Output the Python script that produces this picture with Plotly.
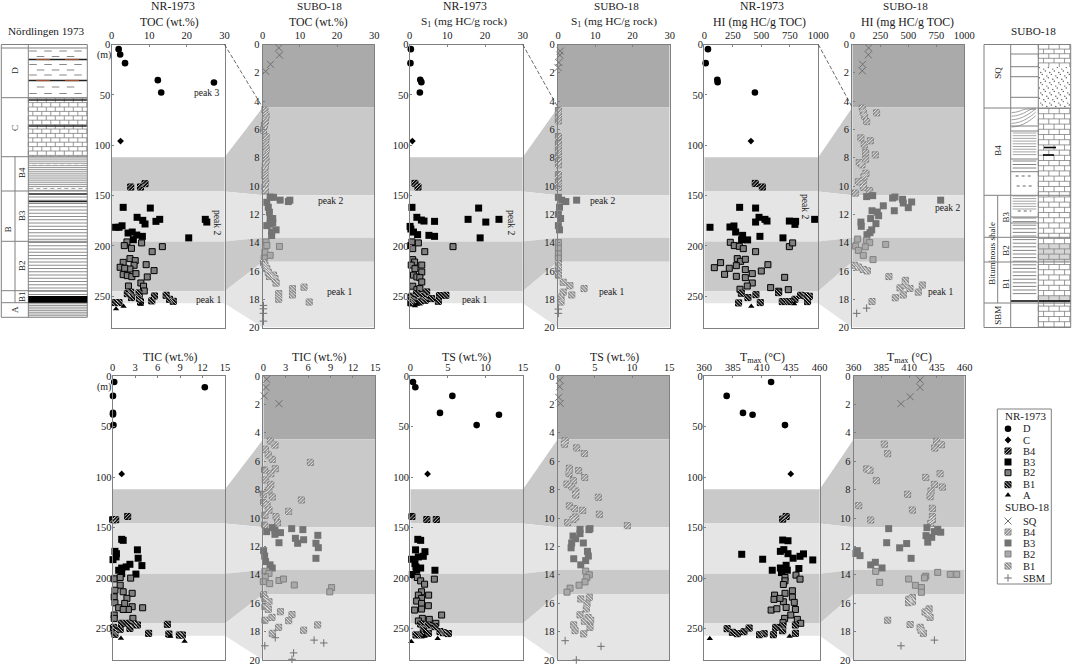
import plotly.graph_objects as go

W, H = 1072, 665
SERIF = "Liberation Serif"

# depth boundaries of the units, NR-1973 in m and SUBO-18 in m
nr_bounds = [112, 146, 195.6, 245, 257]
su_bounds = [4.45, 10.65, 13.65, 15.35, 20]
nr_depth_max = 281
su_depth_max = 20

# (value, depth)
toc_nr_d = [(1.9, 4.6), (2.3, 9.9), (3.6, 18.5), (12.3, 35.4), (13.2, 47.6), (27.2, 37.7)]
toc_nr_c = [(2.4, 95.9)]
toc_nr_b4 = [(5.1, 141.5), (7.7, 141.5), (8.9, 138.2)]
toc_nr_b3 = [(3.1, 161.7), (10.3, 162.4), (6.8, 171.6), (8.3, 174.6), (8.9, 178.2), (11.8, 175.6), (12.8, 173.6),
             (24.9, 173.6), (25.3, 176.3), (20.5, 192), (1.1, 181.5), (2, 181.5), (2.8, 180), (4.4, 187.2),
             (5.5, 186.2), (6.7, 189.2), (8.2, 190.5), (5.8, 193.8)]
toc_nr_b2 = [(4.1, 196), (3.4, 199.7), (5.3, 202.4), (8, 197), (10.8, 205.7), (13.5, 200.7), (4.9, 212.6), (6.3, 214.6),
             (3.1, 216.3), (6, 219.2), (4.9, 222.9), (9.2, 218.6), (2.3, 221.2), (3.5, 222.2), (11.3, 224.5),
             (3.1, 228.5), (4.2, 229.5), (5.4, 230.5), (6.5, 227.5), (9.5, 230.8), (7.8, 236.8), (8.5, 240),
             (4.5, 239.8), (8.7, 244.7)]
toc_nr_b1 = [(4.2, 247.4), (5.1, 246), (5.3, 251.3), (7.3, 246.7), (7.4, 252), (7.7, 255.6), (10.7, 254.6), (11.4, 249.7),
             (14.5, 249), (15.4, 253), (16.4, 255), (1, 256.3), (2, 256.3)]
toc_nr_a = [(1.2, 262.6), (3.2, 260), (7.8, 258)]

toc_su_sq = [(4.3, 0.24), (4.5, 0.75), (2.1, 1.4), (0.8, 1.9)]
toc_su_b4 = [(0.6, 4.65), (0.9, 5), (0.7, 5.4), (0.45, 5.7), (0.2, 6.06), (0.9, 6.53), (0.8, 6.96), (0.9, 7.36), (0.8, 7.76),
             (0.9, 8.18), (0.7, 8.54), (0.6, 8.9), (0.6, 9.3), (0.8, 9.7), (0.6, 10.07), (0.7, 10.35)]
toc_su_b3 = [(2, 10.78), (2.9, 10.8), (4.7, 11), (6.9, 11.1), (7.3, 11), (1.1, 11.15), (1.5, 11.5), (1.8, 11.85), (2, 12.3),
             (2.7, 12.3), (2.7, 12.6), (1.1, 12.8), (2, 12.7), (3.6, 13.1), (2.4, 13.25), (2.4, 13.5)]
toc_su_b2 = [(0.9, 13.96), (1.1, 14.2), (4.5, 14.27), (0.6, 14.67), (2, 14.9), (0.4, 15.1)]
toc_su_b1 = [(0.2, 15.4), (0.6, 15.6), (1.1, 15.85), (1.5, 16.1), (1.8, 16.4), (2.9, 16.3), (3.3, 16.55), (3.6, 16.86),
             (4.3, 17.6), (4.3, 18), (8, 17.26), (8, 17.7), (11.1, 17.15), (12.5, 18.2)]
toc_su_sbm = [(0.2, 18.44), (0.2, 18.68), (0.2, 19), (0.2, 19.55)]

s1_nr_d = [(0.3, 4.6), (0.2, 18.5), (2.8, 35), (3.1, 37.4), (2.7, 47.6)]
s1_nr_c = [(0.7, 95.9)]
s1_nr_b4 = [(1.4, 137.9), (2.2, 141.5)]
s1_nr_b3 = [(0.6, 161.7), (18.3, 162.4), (1.9, 171.6), (3.1, 174.3), (3.8, 175.3), (6.6, 175.6), (15.5, 173.6), (20.2, 176.3),
            (23.7, 173.6), (18.7, 192), (0.1, 180.6), (0.3, 183.2), (1, 186.2), (2.1, 188.8), (5.1, 189.5), (6.6, 190.5),
            (0.3, 199.7)]
s1_nr_b2 = [(0.6, 196), (2.3, 197), (0.8, 202.7), (4, 205.7), (11.5, 200.7), (0.8, 213.6), (1.3, 216), (0.4, 219), (3.2, 219),
            (1.4, 222.6), (3.2, 225.9), (1, 229), (1.9, 230.8), (2.7, 231.5), (3.2, 235.8), (0.8, 240), (1.9, 243.4),
            (2.7, 242.4)]
s1_nr_b1 = [(4.5, 245.7), (3.6, 250), (0.5, 250), (1.9, 247.4), (7.9, 249.3), (9.6, 249), (4.1, 254), (5.8, 252.3), (7.6, 255),
            (0.3, 256.6), (1, 254), (2.7, 255.6)]
s1_nr_a = [(1.4, 259.6), (2, 258)]

s1_su_sq = [(0.6, 0.47), (0.5, 0.75), (0.2, 1.27), (0, 1.63)]
s1_su_b4 = [(0.1, 4.65), (0.1, 5), (0.1, 5.4), (0.1, 6.5), (0.1, 7), (0.1, 7.4), (0.1, 7.8), (0.1, 8.2), (0.1, 8.5), (0.1, 9.2),
            (0.1, 9.7), (0.1, 10.1)]
s1_su_b3 = [(0.1, 10.8), (1, 11), (2.1, 11.1), (5, 11), (0.4, 11.5), (0.1, 12), (0.7, 12.3), (0.1, 12.8), (0.4, 13.1)]
s1_su_b2 = [(0.1, 14), (0.1, 14.4), (0.1, 14.8), (0.1, 15.1)]
s1_su_b1 = [(0.1, 15.5), (0.1, 15.85), (0.1, 16.3), (1.4, 16.8), (3.2, 17.05), (1.4, 17.5), (3.7, 17.7), (7, 17.25), (0.8, 17.85),
            (0.8, 18.2)]
s1_su_sbm = [(0.1, 18.7), (0.1, 19)]

hi_nr_d = [(32, 4.6), (12, 18.5), (114, 35), (117, 37.4), (444, 47.6)]
hi_nr_c = [(409, 95.9)]
hi_nr_b4 = [(447, 137.9), (509, 141.5)]
hi_nr_b3 = [(310, 161.7), (450, 162.4), (480, 171.6), (532, 173.6), (550, 175.3), (450, 176.3), (746, 175.3), (801, 175.6),
            (795, 178.6), (968, 173.6), (50, 181.5), (225, 181.2), (260, 180.2), (275, 186.2), (336, 189.5), (327, 193.8),
            (380, 194), (488, 190.5), (690, 192)]
hi_nr_b2 = [(228, 196.4), (263, 199.7), (307, 200.4), (342, 202.7), (450, 205.7), (746, 200.7), (775, 197), (289, 212.6),
            (319, 215.3), (360, 213.3), (143, 216.6), (88, 221.6), (281, 219.6), (219, 222.2), (178, 228.2), (281, 230.2),
            (360, 223.5), (360, 231.5), (421, 227.5), (500, 224.9), (558, 218.6), (705, 231.2), (421, 236.8), (377, 239.8),
            (313, 243), (582, 241.4), (652, 245), (737, 243.4)]
hi_nr_b1 = [(325, 247), (383, 251.3), (453, 248.4), (652, 246.4), (301, 256.6), (491, 256.3), (684, 255.3), (737, 255.3),
            (795, 253), (845, 249), (889, 249.7), (921, 250), (906, 255.3)]
hi_nr_a = [(412, 260), (789, 257.6)]

hi_su_sq = [(146, 0.24), (143, 0.73), (92, 1.4), (89, 1.86)]
hi_su_b4 = [(89, 4.5), (98, 4.8), (217, 4.83), (110, 5.07), (128, 5.45), (77, 6.6), (161, 6.8), (107, 7.1), (119, 7.64), (205, 7.8),
            (119, 8.1), (62, 8.35), (86, 8.5), (122, 9.1), (104, 9.36), (54, 9.7), (98, 9.83), (98, 10.1), (155, 10.33), (27, 10.5)]
hi_su_b3 = [(128, 10.75), (182, 10.68), (360, 10.85), (381, 10.78), (449, 10.94), (455, 11.2), (530, 11.13), (500, 11.53), (789, 11),
            (277, 11.4), (176, 11.75), (223, 11.84), (235, 12.1), (375, 11.75), (164, 12.3), (77, 12.55), (80, 12.85), (211, 12.66),
            (173, 13.1), (158, 13.3), (131, 13.44)]
hi_su_b2 = [(48, 13.75), (128, 13.84), (155, 14), (298, 14.13), (30, 14.25), (116, 14.3), (54, 14.55), (98, 14.9), (185, 15.2)]
hi_su_b1 = [(18, 15.6), (54, 15.73), (98, 15.9), (134, 16), (327, 16.4), (473, 16.67), (426, 17.2), (515, 17.24), (625, 17), (589, 17.5),
            (455, 17.7), (384, 17.9), (176, 18.16), (473, 17)]
hi_su_sbm = [(128, 18.63), (39, 19)]

tic_nr_d = [(0.2, 5.9), (12.3, 11.2), (0.04, 19.7), (0.04, 36.5), (0.04, 38), (0.1, 48.6)]
tic_nr_c = [(1.2, 96.9)]
tic_nr_b4 = [(2, 139), (0, 142.2), (0.4, 142.2)]
tic_nr_b3 = [(1.2, 161.6), (1.4, 162.6), (3.3, 172), (3.4, 180.3), (3.9, 187.6), (3.1, 196), (0.3, 173.5), (0.5, 175.8), (0.45, 179),
             (0.04, 181.7), (2.3, 186.3), (1.8, 188.9), (1.2, 190), (0.8, 192.2), (1.2, 195.5)]
tic_nr_b2 = [(0.2, 200.7), (1, 199.4), (2.4, 200), (1, 207), (0.3, 212), (1.4, 213.5), (2.6, 215), (0.2, 218.5), (1.9, 220), (0.3, 224.4),
             (1.6, 225), (0.8, 229.3), (2.6, 228.3), (2.1, 231), (1.4, 231), (4, 229.3), (0.2, 236.5), (0.2, 239.8), (2.7, 239.8)]
tic_nr_b1 = [(1.2, 244.7), (2.1, 244.7), (2.8, 245.4), (3.3, 246.4), (2.3, 249.7), (1, 250.6), (0.1, 248.7), (0.2, 253), (0.3, 255.6),
             (7.3, 245.7), (4.8, 254.6), (7.5, 255.3), (8.9, 256.3), (9.3, 256.3)]
tic_nr_a = [(1.1, 259.5), (7.7, 257.6), (9.6, 262.5)]

tic_su_sq = [(0.45, 0.23), (0.36, 0.8), (0.13, 1.4), (2.1, 1.95)]
tic_su_b4 = [(0.94, 4.58), (1.56, 4.86), (0.3, 5.16), (0.67, 5.56), (1.2, 5.87), (6.3, 6.08), (1.6, 6.53), (0.18, 6.62), (1, 6.88), (0.27, 7.32),
             (1, 7.63), (0.76, 8.03), (0, 8.33), (1.2, 8.52), (5.1, 8.73), (0.04, 8.9), (0.5, 9.08), (0.76, 9.44), (3.4, 9.53), (0.22, 9.8),
             (1.7, 9.9), (1.9, 10.33), (0.18, 10.5)]
tic_su_b3 = [(0.45, 10.96), (1.2, 10.68), (1.56, 10.85), (1.56, 11.15), (2.3, 11.03), (3.8, 10.75), (5.3, 10.82), (4.3, 11.43), (4.6, 11.78),
             (5.4, 11.53), (7.3, 11.22), (7.05, 11.78), (7.37, 12.09), (7.05, 12.84), (2.1, 11.74), (0.04, 12.3), (0.18, 12.68), (0.3, 13.07),
             (0.9, 13.3), (1.2, 13.52)]
tic_su_b2 = [(0.22, 13.75), (0.76, 13.9), (0.27, 14.13), (0, 14.48), (0.85, 14.62), (2.1, 14.4), (2.7, 14.3), (4.15, 14.72), (9.15, 14.9), (8.9, 15.2)]
tic_su_b1 = [(0.04, 15.4), (0.22, 15.7), (0.76, 15.9), (0.22, 16.24), (0.67, 16.43), (2.3, 16.6), (3.84, 16.8), (1.16, 17), (3.4, 17.23),
             (0.22, 17.2), (7.28, 17.53), (5.4, 17.9), (2.05, 17.7), (1.2, 18.12)]
tic_su_sbm = [(1.6, 18.43), (6.8, 18.6), (8.1, 18.8), (0.2, 19), (4.06, 19.5), (3.84, 19.95)]

ts_nr_d = [(0.36, 5.9), (0.67, 11.2), (5.6, 19.7), (3.95, 36.5), (11.8, 38.4), (8.83, 48.6)]
ts_nr_c = [(2.3, 96.9)]
ts_nr_b4 = [(0.22, 139), (2.2, 142), (3.46, 142)]
ts_nr_b3 = [(1, 161.6), (1.38, 162.6), (0.7, 172), (1.95, 173.8), (1.07, 179), (1.73, 178.4), (0.18, 181.3), (0.62, 185.6), (0.75, 189), (1.38, 190),
            (3.28, 192.2), (0.27, 196.4), (0.85, 192.2)]
ts_nr_b2 = [(0.93, 199.4), (1.38, 202.7), (1.9, 206), (3.2, 201), (1.5, 213.5), (1.07, 216.8), (2.44, 216.8), (1.5, 220), (0.85, 222.7), (1.5, 225),
            (2.4, 227.3), (0.58, 231.6), (1.5, 230.6), (4.17, 236.5), (1.6, 239.8), (2.53, 240.8), (1.07, 242.4), (3.4, 244.7)]
ts_nr_b1 = [(1.38, 245.4), (2.4, 246.4), (3.28, 248), (1.73, 249.7), (2.4, 254.6), (3.95, 252.9), (5.06, 254.9), (0.75, 256.2), (1.5, 256.2), (4.4, 254)]
ts_nr_a = [(0.13, 262.8), (1.9, 257.6), (3.64, 259.9)]

ts_su_sq = [(0.27, 0.28), (0.27, 0.75), (0.13, 1.5), (0.36, 1.93)]
ts_su_b4 = [(1, 4.56), (0.9, 4.8), (2.55, 5.06), (3.58, 5.46), (1.57, 6.5), (1.52, 6.87), (2.82, 6.66), (3.63, 7.15), (2.1, 7.36), (1.25, 7.62),
            (1.88, 7.8), (2.42, 8.1), (2.42, 8.38), (5.46, 8.54), (1.57, 9.15), (2.24, 9.34), (3.36, 9.46), (5.6, 9.74), (2.42, 9.93), (2.06, 10.1),
            (1.34, 10.33), (9.36, 10.54)]
ts_su_b3 = [(4.2, 10.82), (3, 10.8), (3, 11.1), (2.06, 11.27), (2.42, 11.46), (3.45, 11.76), (1.88, 11.76), (1.8, 12.1), (4, 12.35), (4.12, 12.68),
            (2.15, 12.87), (3.76, 13), (3.1, 13.3), (4.34, 10.75)]
ts_su_b2 = [(3.76, 13.74), (4.25, 14), (3.9, 14.2), (3.67, 14.5), (2.87, 14.73), (1.66, 14.94), (1.25, 15.22)]
ts_su_b1 = [(4.25, 15.58), (3.1, 15.7), (3.94, 16.05), (3.85, 16.4), (3, 16.82), (4.08, 17), (3.58, 17.27), (4.43, 17.2), (4.34, 17.7), (2.15, 17.53),
            (2.33, 17.93), (3.5, 18.16)]
ts_su_sbm = [(1, 18.64), (5.82, 19.04), (2.5, 20)]

tmax_nr_d = [(418, 5.9), (379.6, 19.7), (393.7, 36.5), (402, 38.4), (430, 48.6)]
tmax_nr_c = [(435, 96.9)]
tmax_nr_b4 = [(428, 141.6), (431, 139)]
tmax_nr_b3 = [(428, 162.3), (432.6, 163), (392.6, 176.4), (410.7, 181.3), (426, 173.5), (429, 171.8), (432.6, 175.8), (437, 180.3), (443, 178.4), (446, 176),
              (454, 182), (419, 192.2), (426, 190), (431, 187.3), (442, 190.5), (427, 194.5), (432, 192.2)]
tmax_nr_b2 = [(430, 199.4), (439.5, 197), (443, 201), (430, 202.7), (428.6, 206.3), (436.4, 212.5), (430, 215), (421, 216.8), (420.5, 221), (436.4, 218.8),
              (428.6, 223.4), (438, 224), (425.7, 220), (431, 229), (439, 231), (418, 231.6), (423, 230.3), (435, 236.5), (429.7, 239.8), (440.7, 240.8),
              (443.6, 244.7), (428.3, 244)]
tmax_nr_b1 = [(439, 246.4), (380, 250), (384.5, 253.6), (388.8, 255), (394.6, 253), (399, 249.4), (408, 256), (412, 255), (420, 256), (422, 248.7),
              (428, 247.4), (428, 252), (439, 254.6)]
tmax_nr_a = [(365, 259.9), (434, 257.6)]

tmax_su_sq = [(419.8, 0.28), (419.8, 0.8), (410.8, 1.46), (402.6, 1.95)]
tmax_su_b4 = [(434.8, 4.6), (439, 4.84), (433, 5.07), (387.6, 4.8), (390.6, 5.47), (371.7, 6.55), (374.7, 6.64), (380.4, 7.37), (437.8, 6.88), (424.9, 7.14),
              (432.7, 7.63), (439.9, 7.82), (429.7, 8.1), (428.8, 8.5), (408.6, 8.33), (364.5, 9.13), (412.9, 9.44), (430.9, 9.32), (430.9, 9.9), (430.9, 10.1),
              (375.3, 10.14), (429.4, 10.38)]
tmax_su_b3 = [(391.5, 10.75), (426, 10.68), (435.7, 10.8), (438.4, 11), (432.7, 10.96), (425.2, 11.24), (430.3, 11.36), (426.7, 11.7), (389.7, 11.74),
              (407.7, 11.8), (401.4, 12.1), (363.3, 12.3), (365.7, 12.65), (362, 12.5), (411.7, 12.84), (375.3, 13.3), (379.5, 13.12), (385.5, 13.52)]
tmax_su_b2 = [(379.8, 13.76), (435.7, 13.83), (447, 13.97), (452.8, 13.97), (424.9, 14.1), (423.7, 14.22), (409.5, 14.3), (383.4, 14.53), (415.6, 14.74),
              (421, 14.9), (421, 15.23)]
tmax_su_b1 = [(412.9, 15.6), (409.5, 15.72), (409.5, 15.96), (412.9, 15.9), (427.9, 16.4), (424.3, 16.62), (428.8, 17), (427, 16.76), (390.6, 17.2),
              (410.8, 17.5), (419.8, 17.7), (422.8, 18.12), (420.7, 17.9)]
tmax_su_sbm = [(432.7, 18.6), (402.6, 19)]

# tick labels
toc_ticks = [0, 10, 20, 30]
hi_ticks = [0, 250, 500, 750, 1000]
tic_ticks = [0, 3, 6, 9, 12, 15]
ts_ticks = [0, 5, 10, 15]
tmax_ticks = [360, 385, 410, 435, 460]
nr_depth_ticks = [0, 50, 100, 150, 200, 250]
su_depth_ticks = [0, 2, 4, 6, 8, 10, 12, 14, 16, 18, 20]

STYLES = {
    "nr_d": dict(symbol="circle", size=6.6, color="black"),
    "nr_c": dict(symbol="diamond", size=5.2, color="black"),
    "nr_b4": dict(symbol="square", size=6, color="#111111", line=dict(color="black", width=1), hatch="ne"),
    "nr_b3": dict(symbol="square", size=7, color="black"),
    "nr_b2": dict(symbol="square", size=6, color="#808080", line=dict(color="black", width=1)),
    "nr_b1": dict(symbol="square", size=6, color="#111111", line=dict(color="black", width=1), hatch="nw"),
    "nr_a": dict(symbol="triangle-up", size=5.6, color="black"),
    "su_sq": dict(symbol="x-thin", size=7, color="#707070", line=dict(color="#707070", width=1)),
    "su_b4": dict(symbol="square", size=6, color="#999999", line=dict(color="#808080", width=1), hatch="ne"),
    "su_b3": dict(symbol="square", size=7, color="#737373"),
    "su_b2": dict(symbol="square", size=6, color="#a9a9a9", line=dict(color="#808080", width=1)),
    "su_b1": dict(symbol="square", size=6, color="#999999", line=dict(color="#808080", width=1), hatch="nw"),
    "su_sbm": dict(symbol="cross-thin", size=5.4, color="#707070", line=dict(color="#707070", width=1)),
}
NR_KEYS = ["nr_d", "nr_c", "nr_b4", "nr_b3", "nr_b2", "nr_b1", "nr_a"]
SU_KEYS = ["su_sq", "su_b4", "su_b3", "su_b2", "su_b1", "su_sbm"]

fig = go.Figure()
annotations = []
shapes = []


def text(x, y, s, size=11, angle=0, anchor="center"):
    annotations.append(dict(x=x, y=y, xref="x", yref="y", text=s, showarrow=False, textangle=angle, xanchor=anchor, yanchor="middle",
                            font=dict(family=SERIF, size=size, color="#1a1a1a")))


def marks(pts, key, xaxis, yaxis, ux, uy):
    # ux, uy: data units per screen pixel, used to space the hatch strokes
    st = dict(STYLES[key])
    hatch = st.pop("hatch", None)
    x = [p[0] for p in pts]
    y = [p[1] for p in pts]
    fig.add_trace(go.Scatter(x=x, y=y, xaxis=xaxis, yaxis=yaxis, mode="markers", marker=st, cliponaxis=False, hoverinfo="skip", showlegend=False))
    if not hatch:
        return
    sign = 1 if hatch == "ne" else -1
    d = 1.7
    hx = x + [v + sign * d * ux for v in x] + [v - sign * d * ux for v in x]
    hy = y + [v + d * uy for v in y] + [v - d * uy for v in y]
    sizes = [6.5] * len(x) + [3.2] * (2 * len(x))
    fig.add_trace(go.Scatter(x=hx, y=hy, xaxis=xaxis, yaxis=yaxis, mode="markers", cliponaxis=False, hoverinfo="skip", showlegend=False,
                             marker=dict(symbol="line-" + hatch, size=sizes, line=dict(color="white", width=1))))


def lines(segs, color="#6e6e6e", width=0.7, dash=None):
    xs, ys = [], []
    for x0, y0, x1, y1 in segs:
        xs += [x0, x1, None]
        ys += [y0, y1, None]
    fig.add_trace(go.Scatter(x=xs, y=ys, xaxis="x", yaxis="y", mode="lines", line=dict(color=color, width=width, dash=dash),
                             hoverinfo="skip", showlegend=False))


def rows(x0, x1, y0, y1, step):
    out = []
    y = y0
    while y <= y1:
        out.append((x0, y, x1, y))
        y += step
    return out


def bricks(x0, x1, y0, y1, step=4.4, cell=9.0, color="#707070", width=0.7):
    out = rows(x0, x1, y0, y1, step)
    y = y0
    odd = False
    while y < y1:
        x = x0 + (cell / 2 if odd else 0)
        while x < x1:
            out.append((x, y, x, min(y + step, y1)))
            x += cell
        odd = not odd
        y += step
    lines(out, color=color, width=width)


def dashes(x0, x1, ys, size=7.5, gap=7.5, color="#555555", width=0.7):
    out = []
    shift = False
    for y in ys:
        x = x0 + 1 + (gap if shift else 0)
        while x + size < x1:
            out.append((x, y, x + size, y))
            x += size + gap
        shift = not shift
    lines(out, color=color, width=width)


def dots(x0, x1, y0, y1):
    xs, ys = [], []
    y = y0 + 1.5
    k = 0
    while y < y1:
        x = x0 + 1 + (k % 3) * 1.5
        while x < x1 - 1:
            xs.append(x)
            ys.append(y + ((x * 7) % 3) - 1)
            x += 4.5
        y += 3.4
        k += 1
    fig.add_trace(go.Scatter(x=xs, y=ys, xaxis="x", yaxis="y", mode="markers", marker=dict(size=1.4, color="#555555"), hoverinfo="skip", showlegend=False))


def add_shape(**kw):
    shapes.append(kw)


# full page axes first: they hold the columns, the connectors and the key, in pixels
fig.add_trace(go.Scatter(x=[0], y=[0], xaxis="x", yaxis="y", mode="markers", marker=dict(size=1, opacity=0), hoverinfo="skip", showlegend=False))
layout = dict(xaxis=dict(domain=[0, 1], range=[0, W], visible=False, fixedrange=True),
              yaxis=dict(domain=[0, 1], range=[H, 0], visible=False, fixedrange=True))

top_box, bot_box = (44.5, 327.5), (376, 660)
panels = [
    # x0, x1, row box, kind, x range, ticks, series
    (111.5, 224.5, top_box, "nr", (0, 30), toc_ticks, [toc_nr_d, toc_nr_c, toc_nr_b4, toc_nr_b3, toc_nr_b2, toc_nr_b1, toc_nr_a]),
    (262.7, 374.3, top_box, "su", (0, 30), toc_ticks, [toc_su_sq, toc_su_b4, toc_su_b3, toc_su_b2, toc_su_b1, toc_su_sbm]),
    (409.7, 522.7, top_box, "nr", (0, 30), toc_ticks, [s1_nr_d, s1_nr_c, s1_nr_b4, s1_nr_b3, s1_nr_b2, s1_nr_b1, s1_nr_a]),
    (558.0, 669.7, top_box, "su", (0, 30), toc_ticks, [s1_su_sq, s1_su_b4, s1_su_b3, s1_su_b2, s1_su_b1, s1_su_sbm]),
    (704.3, 818.3, top_box, "nr", (0, 1000), hi_ticks, [hi_nr_d, hi_nr_c, hi_nr_b4, hi_nr_b3, hi_nr_b2, hi_nr_b1, hi_nr_a]),
    (852.3, 964.3, top_box, "su", (0, 1000), hi_ticks, [hi_su_sq, hi_su_b4, hi_su_b3, hi_su_b2, hi_su_b1, hi_su_sbm]),
    (112.7, 225.0, bot_box, "nr", (0, 15), tic_ticks, [tic_nr_d, tic_nr_c, tic_nr_b4, tic_nr_b3, tic_nr_b2, tic_nr_b1, tic_nr_a]),
    (263.3, 375.3, bot_box, "su", (0, 15), tic_ticks, [tic_su_sq, tic_su_b4, tic_su_b3, tic_su_b2, tic_su_b1, tic_su_sbm]),
    (410.3, 523.0, bot_box, "nr", (0, 15), ts_ticks, [ts_nr_d, ts_nr_c, ts_nr_b4, ts_nr_b3, ts_nr_b2, ts_nr_b1, ts_nr_a]),
    (557.7, 669.3, bot_box, "su", (0, 15), ts_ticks, [ts_su_sq, ts_su_b4, ts_su_b3, ts_su_b2, ts_su_b1, ts_su_sbm]),
    (704.0, 819.7, bot_box, "nr", (360, 460), tmax_ticks, [tmax_nr_d, tmax_nr_c, tmax_nr_b4, tmax_nr_b3, tmax_nr_b2, tmax_nr_b1, tmax_nr_a]),
    (853.7, 964.7, bot_box, "su", (360, 460), tmax_ticks, [tmax_su_sq, tmax_su_b4, tmax_su_b3, tmax_su_b2, tmax_su_b1, tmax_su_sbm]),
]

BAND_DARK, BAND_MID, BAND_LIGHT = "#aaaaaa", "#c9c9c9", "#e5e5e5"
band_colors = [BAND_MID, BAND_LIGHT, BAND_MID, BAND_LIGHT]


def page_y(depth, box, dmax):
    return box[0] + (box[1] - box[0]) * depth / dmax


# connectors between each NR-1973 panel and its SUBO-18 neighbour
for left, right in zip(panels[0::2], panels[1::2]):
    box = left[2]
    lx, rx = left[1], right[0]
    for i, col in enumerate(band_colors):
        l0, l1 = nr_bounds[i], nr_bounds[i + 1]
        r0, r1 = su_bounds[i], su_bounds[i + 1]
        add_shape(type="path", xref="x", yref="y", layer="below", fillcolor=col, line_width=0,
                  path=f"M{lx},{page_y(l0, box, nr_depth_max)} L{rx},{page_y(r0, box, su_depth_max)} "
                       f"L{rx},{page_y(r1, box, su_depth_max)} L{lx},{page_y(l1, box, nr_depth_max)} Z")
    if box is top_box:
        add_shape(type="line", xref="x", yref="y", x0=lx, x1=rx, y0=box[0], y1=page_y(su_bounds[0], box, su_depth_max),
                  line=dict(color="#444444", width=0.8, dash="4px,2px"))

# stratigraphic column, Nordlingen 1973
L0, L1, L2, L3 = 1.3, 15, 28.3, 87.3
ly = [44.5, 48, 97.7, 156.7, 191, 241.3, 290.7, 302.7, 317.3]
bricks(L2, L3, ly[2] + 0.5, ly[3], color="#707070")
dashes(L2, L3, [51, 56.5, 64.5, 70, 75, 87, 93.5])
lines(rows(L2, L3, 158, 190.5, 1.9), color="#9a9a9a", width=1)
dashes(L2, L3, [164.5, 188.5], size=3, gap=4, color="#ffffff", width=1.2)
lines(rows(L2, L3, 197, 296, 3.25), color="#707070", width=0.8)
lines([(L2, 59.5, L3, 59.5), (L2, 80.5, L3, 80.5), (L2, 100, L3, 100), (L2, 126, L3, 126), (L2, 194, L3, 194), (L2, 201.5, L3, 201.5)], color="#222222", width=1.4)
lines([(36, 59.5, 50, 59.5), (65, 59.5, 79, 59.5), (36, 80.5, 50, 80.5), (65, 80.5, 79, 80.5)], color="#a05030", width=1.2)
lines(rows(L2, L3, 303.8, 317, 1.7), color="#8a8a8a", width=0.9)
add_shape(type="rect", xref="x", yref="y", x0=L2, x1=L3, y0=296, y1=302.7, fillcolor="black", line_width=0)
col_lines = [(L0, y, L3, y) for y in ly]
col_lines += [(L0, 44.5, L0, 317.3), (L2, 44.5, L2, 317.3), (L3, 44.5, L3, 317.3), (L1, ly[3], L1, ly[7])]
lines(col_lines, color="#808080", width=1)
for x, y, s in [(15, 70.7, "D"), (15, 128, "C"), (22, 173, "B4"), (22, 216, "B3"), (8.3, 229, "B"), (22, 266, "B2"), (22, 297, "B1"), (15, 310, "A")]:
    text(x, y, s, size=9, angle=-90)

# stratigraphic column, SUBO-18
R0, R1, R2, R3, R4 = 984, 997.7, 1010.7, 1038.3, 1070.7
ry = [44.5, 108, 195.3, 237.3, 262, 303, 327.5]
bricks(R3, R4, ry[1] + 0.5, ry[6], step=5.2, cell=10.5)
bricks(R3, R4, 44.5, 67, step=4.6, cell=10.5)
dots(R3, R4, 67, 108)
lines(rows(R3, R4, 245, 262, 2), color="#8a8a8a", width=0.7)
lines(rows(R3, R4, 297, 303, 2), color="#8a8a8a", width=0.7)
lines([(R2, 301, R4, 301)], color="black", width=1.6)
lines(rows(R2 + 2, R3 - 2, 133, 156, 2.7), color="#9a9a9a", width=0.9)
lines(rows(R2 + 2, R3 - 2, 161, 168, 3.5), color="#666666", width=0.8)
lines(rows(R2 + 2, R3 - 2, 196, 210, 2.6), color="#9a9a9a", width=0.9)
lines(rows(R2 + 2, R3 - 2, 218, 297, 3.6), color="#666666", width=0.8)
lines(rows(R2 + 5, R3 - 5, 176, 176, 1) + rows(R2 + 6, R3 - 6, 186, 186, 1) + rows(R2 + 7, R3 - 7, 211, 211, 1), color="#666666", width=1.2, dash="dot")
for k in range(5):
    # curved bedding at the top of B4, drawn as short arcs
    x = [R2 + 1 + 4 * i for i in range(7)]
    y = [127 - k * 3.6 - (v - R2) ** 2 * 0.018 for v in x]
    y = [max(v, 109) for v in y]
    fig.add_trace(go.Scatter(x=x, y=y, xaxis="x", yaxis="y", mode="lines", line=dict(color="#777777", width=0.7, shape="spline"), hoverinfo="skip", showlegend=False))
lines([(1044, 147.5, 1056, 147.5), (1043, 155, 1054, 155)], color="black", width=1.6)
col_lines = [(R0, y, R4, y) for y in ry]
col_lines += [(R2, y, R3, y) for y in [54, 66.7, 76.7, 97.3, 126, 131, 159, 171.7, 217, 223]]
col_lines += [(R0, 44.5, R0, 327.5), (R2, 44.5, R2, 327.5), (R3, 44.5, R3, 327.5), (R4, 44.5, R4, 327.5), (R1, 195.3, R1, 303)]
lines(col_lines, color="#808080", width=1)
for x, y, s in [(997.7, 73, "SQ"), (997.7, 150, "B4"), (991.7, 253, "Bituminous shale"), (1005.7, 216.7, "B3"), (1005.7, 250, "B2"), (1005.7, 283, "B1"), (997.7, 315, "SBM")]:
    text(x, y, s, size=9, angle=-90)

# the panels themselves
for i, (x0, x1, box, kind, xr, ticks, series) in enumerate(panels):
    n = i + 2
    xa, ya = f"x{n}", f"y{n}"
    dmax = nr_depth_max if kind == "nr" else su_depth_max
    layout[f"xaxis{n}"] = dict(domain=[x0 / W, x1 / W], range=list(xr), side="top", anchor=ya, tickmode="array", tickvals=ticks,
                               ticks="inside", ticklen=2, tickcolor="#808080", showline=True, mirror=True, linecolor="#808080", linewidth=1.4,
                               showgrid=False, zeroline=False, fixedrange=True, ticklabeloverflow="allow",
                               tickfont=dict(family=SERIF, size=10.5, color="#1a1a1a"))
    layout[f"yaxis{n}"] = dict(domain=[1 - box[1] / H, 1 - box[0] / H], range=[dmax, 0], anchor=xa, tickmode="array",
                               tickvals=nr_depth_ticks if kind == "nr" else su_depth_ticks,
                               ticks="inside", ticklen=2, tickcolor="#808080", showline=True, mirror=True, linecolor="#808080", linewidth=1.4,
                               showgrid=False, zeroline=False, fixedrange=True, ticklabeloverflow="allow",
                               ticklabelstandoff=-2 if kind == "nr" else 0,
                               tickfont=dict(family=SERIF, size=10.5, color="#1a1a1a"))
    if kind == "nr":
        for j, col in enumerate(band_colors):
            add_shape(type="rect", xref=xa, yref=ya, x0=xr[0], x1=xr[1], y0=nr_bounds[j], y1=nr_bounds[j + 1], fillcolor=col, line_width=0, layer="below")
    else:
        add_shape(type="rect", xref=xa, yref=ya, x0=xr[0], x1=xr[1], y0=0, y1=su_bounds[0], fillcolor=BAND_DARK, line_width=0, layer="below")
        for j, col in enumerate(band_colors):
            add_shape(type="rect", xref=xa, yref=ya, x0=xr[0], x1=xr[1], y0=su_bounds[j], y1=su_bounds[j + 1], fillcolor=col, line_width=0, layer="below")
    ux = (xr[1] - xr[0]) / (x1 - x0)
    uy = dmax / (box[1] - box[0])
    for pts, key in zip(series, NR_KEYS if kind == "nr" else SU_KEYS):
        marks(pts, key, xa, ya, ux, uy)

# titles
for x, y, s, size in [(46.7, 30.7, "Nördlingen 1973", 11.2), (173, 5.5, "NR-1973", 11.8), (169.5, 22, "TOC (wt.%)", 11.8),
                      (319, 5.5, "SUBO-18", 11.2), (318.7, 22, "TOC (wt.%)", 11.8), (464.7, 5.5, "NR-1973", 11.8), (464, 22, "S<sub>1</sub> (mg HC/g rock)", 11.4),
                      (616, 5.5, "SUBO-18", 11.2), (614, 22, "S<sub>1</sub> (mg HC/g rock)", 11.4), (762, 5.5, "NR-1973", 11.8), (759, 22, "HI (mg HC/g TOC)", 11.8),
                      (905.7, 5.5, "SUBO-18", 11.2), (907, 22, "HI (mg HC/g TOC)", 11.8), (1033.7, 30.7, "SUBO-18", 11.2),
                      (169.7, 357, "TIC (wt.%)", 11.8), (319, 357, "TIC (wt.%)", 11.8), (466.7, 357, "TS (wt.%)", 11.8), (614, 357, "TS (wt.%)", 11.8),
                      (762, 357, "T<sub>max</sub> (°C)", 11.8), (909, 357, "T<sub>max</sub> (°C)", 11.8)]:
    text(x, y, s, size=size)

text(103.5, 55, "(m)", size=10)
text(103.5, 387, "(m)", size=10)
for x, y, s in [(207, 92, "peak 3"), (208.7, 299, "peak 1"), (331, 200, "peak 2"), (340, 291, "peak 1"), (475, 299, "peak 1"), (603, 200, "peak 2"),
                (612, 291, "peak 1"), (948, 207, "peak 2"), (941, 291, "peak 1")]:
    text(x, y, s, size=9.6)
for x, y in [(218, 223), (512, 223), (806, 207)]:
    text(x, y, "peak 2", size=9.6, angle=90)

# key
lines([(997.3, 409, 1051.3, 409), (1051.3, 409, 1051.3, 584), (1051.3, 584, 997.3, 584), (997.3, 584, 997.3, 409)], color="#808080", width=1)
text(1025.5, 416, "NR-1973", size=11)
text(1027, 507, "SUBO-18", size=11)
for y, key, s in [(428.7, "nr_d", "D"), (440, "nr_c", "C"), (451, "nr_b4", "B4"), (462, "nr_b3", "B3"), (472.7, "nr_b2", "B2"), (484.7, "nr_b1", "B1"), (495, "nr_a", "A"),
                  (521, "su_sq", "SQ"), (532, "su_b4", "B4"), (543, "su_b3", "B3"), (554, "su_b2", "B2"), (566, "su_b1", "B1"), (578, "su_sbm", "SBM")]:
    marks([(1008, y)], key, "x", "y", 1, 1)
    text(1020.5, y, s, size=10.5, anchor="left")

fig.update_layout(**layout, width=W, height=H, margin=dict(l=0, r=0, t=0, b=0, autoexpand=False), paper_bgcolor="white", plot_bgcolor="rgba(0,0,0,0)", showlegend=False,
                  annotations=annotations, shapes=shapes)
fig.write_html("out.html", config={"displayModeBar": False}, post_script="document.body.style.margin='0';")
